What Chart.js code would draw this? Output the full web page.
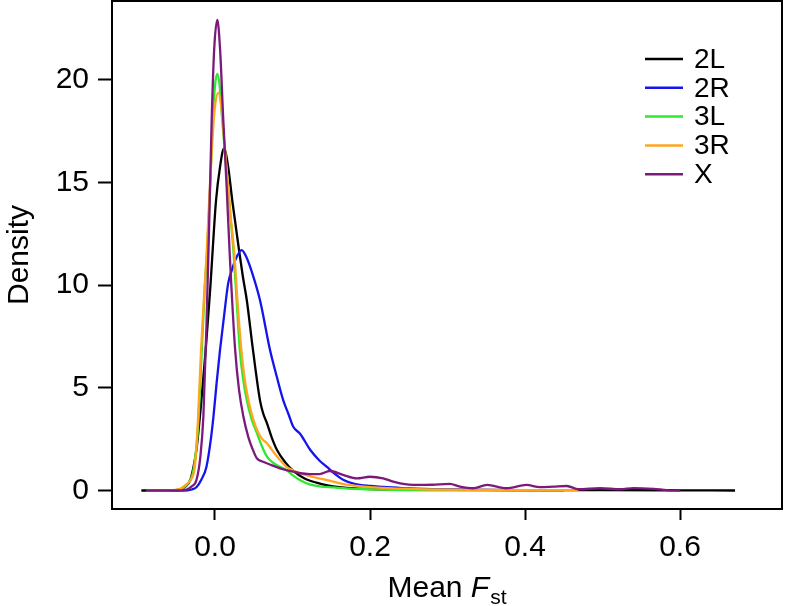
<!DOCTYPE html>
<html><head><meta charset="utf-8">
<script src="https://cdn.jsdelivr.net/npm/chart.js@4.4.0/dist/chart.umd.min.js"></script>
<style>html,body{margin:0;padding:0;background:#fff}#wrap{width:786px;height:606px}</style>
</head><body><div id="wrap"><canvas id="c" width="786" height="606"></canvas></div>
<script>
// ---- data ----
const seriesLabels = ['2L', '2R', '3L', '3R', 'X'];
const xTickValues = [0, 0.2, 0.4, 0.6];
const yTickValues = [0, 5, 10, 15, 20];

const x2L = [-0.095,-0.06,-0.045,-0.038,-0.032,-0.028,-0.024,-0.018,-0.012,-0.006,-0.003,0.0013,0.0065,0.0116,0.017,0.0223,0.031,0.036,0.041,0.049,0.058,0.062,0.067,0.073,0.080,0.090,0.101,0.115,0.131,0.145,0.161,0.18,0.2,0.25,0.3,0.4,0.5,0.6,0.671];
const d2L = [0,0,0.05,0.2,0.5,1.1,1.97,4.2,6.84,9.9,11.7,14.1,15.75,16.65,15.75,14.1,11.7,10.4,9.27,6.84,4.4,3.77,3.28,2.6,1.97,1.4,0.95,0.6,0.38,0.25,0.16,0.1,0.07,0.04,0.03,0.02,0.02,0.01,0];

const x2R = [-0.088,-0.05,-0.035,-0.030,-0.024,-0.018,-0.011,-0.005,-0.002,0.002,0.0065,0.012,0.017,0.0215,0.026,0.0344,0.040,0.047,0.058,0.071,0.080,0.088,0.095,0.101,0.110,0.123,0.135,0.144,0.155,0.166,0.180,0.200,0.217,0.25,0.3,0.35,0.4,0.45];
const d2R = [0,0,0.01,0.05,0.16,0.5,1.16,2.6,3.59,5.2,6.84,8.6,10.08,10.7,11.2,11.7,11.4,10.7,9.27,6.84,5.5,4.4,3.7,3.1,2.75,1.97,1.45,1.16,0.8,0.51,0.32,0.22,0.18,0.1,0.05,0.03,0.02,0.01];

const x3L = [-0.088,-0.06,-0.05,-0.042,-0.036,-0.031,-0.027,-0.022,-0.017,-0.013,-0.010,-0.006,-0.003,0.0,0.003,0.006,0.0094,0.013,0.017,0.0205,0.0237,0.028,0.032,0.036,0.041,0.047,0.054,0.060,0.067,0.075,0.084,0.092,0.100,0.110,0.122,0.135,0.153,0.175,0.196,0.23,0.28,0.35,0.45];
const d3L = [0,0,0.02,0.12,0.3,0.55,1.16,3.0,6.84,10.0,11.7,15.0,18.0,19.7,20.27,19.7,18.0,16.4,14.7,13.1,11.7,9.2,6.84,5.5,4.4,3.5,2.8,2.2,1.65,1.35,1.15,1.0,0.75,0.5,0.3,0.2,0.15,0.09,0.06,0.03,0.01,0.01,0];

const x3R = [-0.088,-0.06,-0.045,-0.037,-0.031,-0.026,-0.022,-0.018,-0.014,-0.011,-0.007,-0.003,0.0,0.0043,0.008,0.012,0.016,0.020,0.025,0.029,0.034,0.038,0.043,0.049,0.056,0.061,0.067,0.073,0.080,0.086,0.092,0.100,0.110,0.120,0.131,0.145,0.160,0.174,0.20,0.239,0.28,0.35,0.42,0.469];
const d3R = [0,0.01,0.08,0.3,0.55,1.16,3.4,6.84,9.5,11.4,14.5,17.3,18.7,19.36,18.7,17.0,15.2,13.4,11.5,9.2,6.84,5.5,4.4,3.5,2.8,2.5,2.3,2.0,1.65,1.4,1.16,1.0,0.84,0.72,0.62,0.5,0.36,0.26,0.16,0.09,0.05,0.03,0.02,0.02];

const xX = [-0.088,-0.05,-0.037,-0.03,-0.024,-0.019,-0.015,-0.011,-0.0075,-0.0043,-0.001,0.003,0.0065,0.0107,0.015,0.019,0.026,0.031,0.0366,0.043,0.049,0.054,0.062,0.070,0.084,0.097,0.110,0.122,0.135,0.148,0.166,0.183,0.200,0.217,0.230,0.239,0.260,0.280,0.303,0.316,0.333,0.351,0.376,0.402,0.419,0.437,0.454,0.469,0.497,0.523,0.54,0.566,0.583,0.60];
const dX = [0,0,0.05,0.2,0.5,1.6,3.6,8.0,13.0,18.0,21.5,22.9,21.5,18.03,14.8,11.5,6.84,4.9,3.6,2.6,1.97,1.57,1.4,1.28,1.08,0.95,0.84,0.8,0.8,0.95,0.75,0.59,0.67,0.59,0.43,0.35,0.27,0.28,0.32,0.19,0.11,0.27,0.11,0.27,0.16,0.19,0.22,0.06,0.11,0.06,0.12,0.08,0.02,0];

const seriesX = [x2L, x2R, x3L, x3R, xX];
const seriesD = [d2L, d2R, d3L, d3R, dX];
const seriesColors = ['#000000', '#1414ee', '#2fe82f', '#ffa51f', '#7b1a7b'];

// ---- chart ----
const FONT = '"Liberation Sans", Arial, Helvetica, sans-serif';

const datasets = seriesLabels.map((lab, i) => ({
  label: lab,
  data: seriesX[i].map((x, j) => ({ x: x, y: seriesD[i][j] })),
  borderColor: seriesColors[i],
  backgroundColor: seriesColors[i],
  borderWidth: 2.3,
  pointRadius: 0,
  fill: false,
  cubicInterpolationMode: 'monotone',
  order: seriesLabels.length - i
}));

const boxPlugin = {
  id: 'boxPlugin',
  afterDraw(chart) {
    const { ctx, chartArea: a } = chart;
    ctx.save();
    ctx.strokeStyle = '#000';
    ctx.lineWidth = 2;
    ctx.strokeRect(a.left, a.top, a.right - a.left, a.bottom - a.top);
    ctx.restore();
  }
};

const legendPlugin = {
  id: 'rLegend',
  afterDraw(chart) {
    const { ctx, chartArea: a } = chart;
    ctx.save();
    const x0 = a.right - 137, x1 = a.right - 99, tx = a.right - 88;
    const y0 = a.top + 58, dy = 28.8;
    ctx.font = '28px ' + FONT;
    ctx.textBaseline = 'middle';
    ctx.textAlign = 'left';
    chart.data.datasets.forEach((ds, i) => {
      const y = y0 + i * dy;
      ctx.strokeStyle = ds.borderColor;
      ctx.lineWidth = 2.5;
      ctx.beginPath(); ctx.moveTo(x0, y); ctx.lineTo(x1, y); ctx.stroke();
      ctx.fillStyle = '#000';
      ctx.fillText(ds.label, tx, y + 1);
    });
    ctx.restore();
  }
};

const xTitlePlugin = {
  id: 'xTitle',
  afterDraw(chart) {
    const { ctx, chartArea: a } = chart;
    ctx.save();
    ctx.fillStyle = '#000';
    ctx.textBaseline = 'alphabetic';
    ctx.textAlign = 'left';
    const f1 = '30px ' + FONT, f2 = 'italic 30px ' + FONT, f3 = '21px ' + FONT;
    ctx.font = f1; const w1 = ctx.measureText('Mean ').width;
    ctx.font = f2; const w2 = ctx.measureText('F').width;
    ctx.font = f3; const w3 = ctx.measureText('st').width;
    const total = w1 + w2 + 1 + w3;
    let x = (a.left + a.right) / 2 - total / 2;
    const base = 597;
    ctx.font = f1; ctx.fillText('Mean ', x, base); x += w1;
    ctx.font = f2; ctx.fillText('F', x, base); x += w2 + 1;
    ctx.font = f3; ctx.fillText('st', x, base + 7);
    ctx.restore();
  }
};

new Chart(document.getElementById('c').getContext('2d'), {
  type: 'line',
  data: { datasets },
  options: {
    responsive: false,
    animation: false,
    devicePixelRatio: 1,
    layout: { padding: { left: 0, right: 4, top: 1, bottom: 0 } },
    plugins: { legend: { display: false }, tooltip: { enabled: false } },
    scales: {
      x: {
        type: 'linear',
        min: -0.1329, max: 0.7316,
        afterBuildTicks: (s) => { s.ticks = xTickValues.map(v => ({ value: v })); },
        afterFit: (s) => { s.height = 97; s.paddingLeft = 0; s.paddingRight = 0; },
        ticks: {
          autoSkip: false, maxRotation: 0, padding: 10, color: '#000',
          font: { family: FONT, size: 30 },
          callback: (v) => Number(v).toFixed(1)
        },
        grid: { drawOnChartArea: false, drawTicks: true, tickLength: 11, tickColor: '#000', tickWidth: 2 },
        border: { display: true, color: '#000', width: 2 }
      },
      y: {
        type: 'linear',
        min: -0.9, max: 23.82,
        afterBuildTicks: (s) => { s.ticks = yTickValues.map(v => ({ value: v })); },
        afterFit: (s) => { s.width = 112; s.paddingTop = 0; s.paddingBottom = 0; },
        ticks: {
          autoSkip: false, padding: 9, color: '#000',
          font: { family: FONT, size: 30 },
          callback: (v) => String(v)
        },
        grid: { drawOnChartArea: false, drawTicks: true, tickLength: 14, tickColor: '#000', tickWidth: 2 },
        border: { display: true, color: '#000', width: 2 },
        title: { display: true, text: 'Density', color: '#000', font: { family: FONT, size: 30 }, padding: { top: 2, bottom: 0 } }
      }
    }
  },
  plugins: [boxPlugin, legendPlugin, xTitlePlugin]
});
</script>
</body></html>
